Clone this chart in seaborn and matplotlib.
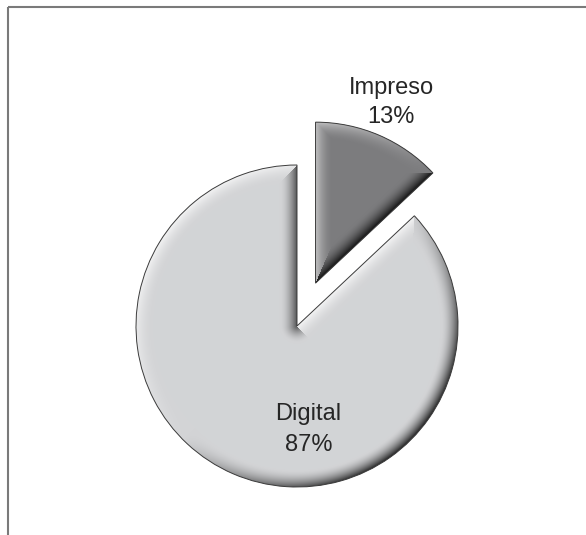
import numpy as np
import matplotlib
matplotlib.use("Agg")
import matplotlib.pyplot as plt
import matplotlib.patches as mpatches
import matplotlib.colors as mcolors
import seaborn as sns

# ---- data ----
labels = ["Impreso", "Digital"]
values = [13, 87]
pct_labels = ["13%", "87%"]
colors = ["#7c7c7e", "#d3d4d6"]
explode = [0.29, 0.0]

# ---- style ----
sns.set_theme(style="white")
plt.rcParams["font.family"] = ["Liberation Sans", "DejaVu Sans"]

W_PX, H_PX = 586, 535
R_PX = 161.0                      # pie radius in pixels -> 1 data unit
def u(p):
    return p / R_PX

fig = plt.figure(figsize=(W_PX / 100, H_PX / 100), dpi=100)
ax = fig.add_axes([0, 0, 1, 1])

wedges, _ = ax.pie(values, colors=colors, startangle=90, counterclock=False,
                   explode=explode, radius=1.0,
                   center=(u(297), u(H_PX - 326)),
                   wedgeprops=dict(linewidth=0))
ax.set_xlim(0, u(W_PX))
ax.set_ylim(0, u(H_PX))
ax.set_axis_off()

# ---- bevel shading clipped to each wedge ----
nx_pix, ny_pix = W_PX, H_PX
xs = (np.arange(nx_pix) + 0.5) / R_PX
ys = (np.arange(ny_pix) + 0.5) / R_PX
X, Y = np.meshgrid(xs, ys)
Lx, Ly = -1 / np.sqrt(2), 1 / np.sqrt(2)
bevel = u(17)

def shade(w, base):
    cx, cy = w.center
    R = w.r
    t1, t2 = np.deg2rad(w.theta1), np.deg2rad(w.theta2)
    dx, dy = X - cx, Y - cy
    rho = np.hypot(dx, dy) + 1e-9
    dists = [R - rho]
    nxs = [dx / rho]
    nys = [dy / rho]
    for t, nang in [(t1, t1 - np.pi / 2), (t2, t2 + np.pi / 2)]:
        ux, uy = np.cos(t), np.sin(t)
        s = np.clip(dx * ux + dy * uy, 0, R)
        dists.append(np.hypot(dx - s * ux, dy - s * uy))
        nxs.append(np.full_like(X, np.cos(nang)))
        nys.append(np.full_like(X, np.sin(nang)))
    D = np.stack(dists)
    idx = np.argmin(D, axis=0)
    dmin = np.take_along_axis(D, idx[None], 0)[0]
    NX = np.take_along_axis(np.stack(nxs), idx[None], 0)[0]
    NY = np.take_along_axis(np.stack(nys), idx[None], 0)[0]
    ndl = NX * Lx + NY * Ly
    f = np.clip(1 - dmin / bevel, 0, 1) ** 1.8
    delta = (ndl * f)[..., None]
    b = np.array(mcolors.to_rgb(base))[None, None, :]
    rgb = np.where(delta > 0, b + delta * 0.75 * (1 - b), b + delta * 0.85 * b)
    return np.clip(rgb, 0, 1)

for w, c in zip(wedges, colors):
    img = shade(w, c)
    im = ax.imshow(img, extent=(0, u(W_PX), 0, u(H_PX)), origin="lower",
                   interpolation="bilinear", zorder=1.5, aspect="auto")
    im.set_clip_path(w)
    ax.add_patch(mpatches.Wedge(w.center, w.r, w.theta1, w.theta2, fill=False,
                                edgecolor="#3c3c3c", linewidth=0.7, zorder=3))
ax.set_xlim(0, u(W_PX))
ax.set_ylim(0, u(H_PX))

# ---- labels ----
txt_kw = dict(ha="center", va="baseline", fontsize=17, color="#262626", zorder=4)
ax.text(u(391), u(H_PX - 94), labels[0], **txt_kw)
ax.text(u(391), u(H_PX - 123), pct_labels[0], **txt_kw)
ax.text(u(308), u(H_PX - 420), labels[1], **txt_kw)
ax.text(u(309), u(H_PX - 451), pct_labels[1], **txt_kw)

# ---- frame lines (top and left) ----
ax.plot([u(7.5), u(W_PX)], [u(H_PX - 6.5), u(H_PX - 6.5)], color="#7a7a7a", lw=1.5,
        solid_capstyle="butt", zorder=5)
ax.plot([u(7.5), u(7.5)], [u(H_PX - 6.5), 0], color="#7a7a7a", lw=1.5,
        solid_capstyle="butt", zorder=5)

fig.savefig("out.png", dpi=100, facecolor="white")
